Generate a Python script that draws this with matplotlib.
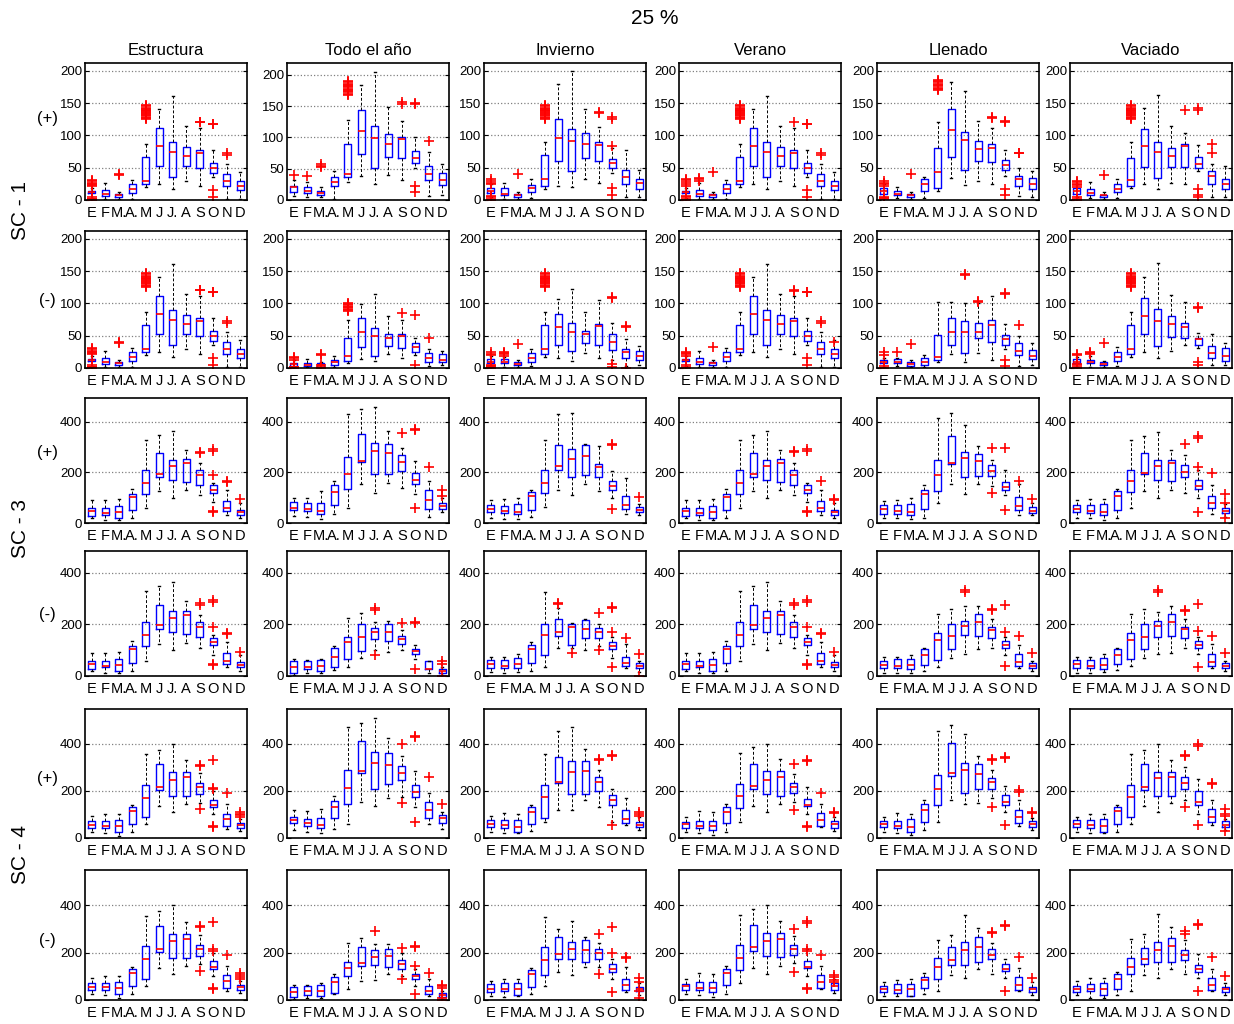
import matplotlib
matplotlib.use('Agg')
import matplotlib.pyplot as plt

plt.rcParams['font.family'] = ['Liberation Sans', 'DejaVu Sans']

meses = ['E', 'F', 'M.', 'A.', 'M', 'J', 'J.', 'A', 'S', 'O', 'N', 'D']
columnas = ['Estructura', 'Todo el año', 'Invierno', 'Verano', 'Llenado', 'Vaciado']
signos = ['(+)', '(-)', '(+)', '(-)', '(+)', '(-)']
escenarios = ['SC - 1', 'SC - 3', 'SC - 4']

# valores atipicos de mayo en SC-1 (nube de cruces)
mayo_sc1 = [125, 127, 129, 131, 132, 134, 135, 137, 138, 140, 141, 143, 145, 147]
mayo_sc1_todo = [168, 170, 172, 174, 176, 178, 180, 182, 184, 186, 188, 191]
mayo_sc1_lle = [170, 172, 174, 176, 178, 180, 182, 184, 186]
mayo_sc1n_todo = [88, 90, 92, 94, 95, 97, 99, 101]

# cada caja: (bigote inf, q1, mediana, q3, bigote sup)
# ---------------- SC-1 (+) ----------------
sc1p_est = [(3, 11, 12, 14, 18), (2, 6, 10, 15, 27), (2, 5, 7, 9, 13), (2, 11, 17, 24, 31),
            (20, 24, 29, 67, 87), (25, 52, 83, 111, 141), (17, 35, 75, 89, 161), (29, 52, 68, 82, 114),
            (21, 50, 73, 78, 112), (36, 42, 49, 57, 77), (2, 22, 29, 40, 56), (2, 15, 22, 29, 43)]
sc1p_est_out = [[0, 1, 2, 4, 21, 23, 25, 27, 29, 31], [], [39, 40], [], mayo_sc1, [], [], [],
                [120, 121], [117, 118, 15, 5], [70, 72], []]

sc1p_todo = [(6, 13.5, 20, 22.6, 32), (4, 10.8, 15, 20.5, 29), (4, 8, 11, 14.5, 20), (1, 22, 29, 37, 47),
             (28, 36.6, 42, 89.5, 128), (38, 73, 110, 144, 184), (26, 51, 99, 117.5, 205), (40, 69, 89, 105.6, 148),
             (32, 67, 97, 100, 126), (51, 59, 67, 78, 101), (6, 32, 42, 55, 77), (8, 24, 32, 43, 57)]
sc1p_todo_out = [[40], [38], [53, 55, 57], [], mayo_sc1_todo, [], [], [],
                 [154, 156], [153, 155, 22, 12], [95], []]

sc1p_inv = [(5, 11, 14, 18, 24), (2, 7, 9, 18, 26), (2, 5, 8, 10, 12), (3, 12, 19, 23, 33),
            (17, 22, 32, 69, 90), (21, 61, 96, 125, 180), (20, 45, 92, 110, 200), (33, 65, 86, 103, 141),
            (27, 60, 85, 89, 113), (42, 49, 58, 63, 80), (4, 24, 36, 47, 78), (4, 17, 27, 33, 47)]
sc1p_inv_out = [[0, 2, 4, 6, 25, 27, 29, 32], [], [41], [], mayo_sc1, [], [], [],
                [134, 136], [126, 128, 84, 19, 8], [], []]

sc1p_ver_out = [[0, 2, 4, 6, 22, 25, 28, 31, 33], [30, 32, 34], [44], [], mayo_sc1, [], [], [],
                [120], [117, 118, 15, 5], [70, 72], []]

sc1p_lle = [(4, 10, 14, 18, 25), (3, 7, 10, 14.5, 20), (2, 4, 7, 9, 12), (3, 14.5, 24, 32, 36),
            (14, 19, 43, 81, 120), (34, 66, 108, 141, 182), (23, 46, 93, 105, 168), (29, 60, 79, 92, 123),
            (25, 59, 80, 86, 112), (37, 46, 54, 62, 77), (6, 22, 33, 37, 50), (4, 17, 25, 34, 45)]
sc1p_lle_out = [[1, 3, 5, 22, 25, 27, 30], [], [40], [], mayo_sc1_lle, [], [], [],
                [127, 128], [120, 122, 17, 7], [72, 73], []]

sc1p_vac = [(4, 10, 14, 18, 25), (3, 7, 11, 17, 28), (2, 5, 7, 8, 12), (3, 12, 17, 25, 33),
            (18, 22, 31, 65, 90), (24, 51, 83, 110, 143), (17, 34, 75, 90, 162), (26, 51, 68, 81, 114),
            (25, 51, 83, 87, 104), (45, 49, 55, 67, 85), (4, 24, 37, 45, 56), (4, 17, 24, 33, 52)]
sc1p_vac_out = [[0, 2, 4, 20, 23, 25, 28, 30], [], [39], [], mayo_sc1, [], [], [],
                [139], [140, 142, 17, 8, 4], [86, 72], []]

# ---------------- SC-1 (-) ----------------
sc1n_todo = [(0, 3, 6, 8, 12), (1, 3, 5, 8, 14), (0, 2, 4, 7, 10), (2, 4, 9, 12, 18),
             (7, 11, 18, 46, 75), (14, 33, 55, 77, 99), (11, 18, 50, 62, 115), (22, 34, 47, 53, 81),
             (15, 31, 50, 52, 75), (20, 24, 32, 38, 46), (3, 10, 15, 23, 29), (4, 9, 13, 21, 26)]
sc1n_todo_out = [[0, 1, 2, 13, 15, 17], [], [0, 2, 4, 20, 22], [], mayo_sc1n_todo, [], [], [],
                 [85], [82, 5], [47], []]

sc1n_inv = [(2, 7, 10, 14, 18), (2, 7, 9, 14, 17), (2, 4, 6, 9, 12), (3, 10, 16, 23, 30),
            (17, 22, 29, 66, 86), (16, 36, 63, 83, 107), (11, 26, 56, 69, 123), (23, 39, 52, 58, 86),
            (15, 35, 65, 68, 106), (12, 28, 41, 52, 70), (3, 15, 25, 30, 45), (5, 12, 18, 27, 34)]
sc1n_inv_out = [[0, 1, 3, 5, 20, 22, 24], [19, 21, 23, 25], [37], [], mayo_sc1, [], [], [],
                [], [108, 110, 2, 6], [63, 65, 0], []]

sc1n_ver_out = [[0, 2, 5, 19, 21, 23, 25], [], [33], [], mayo_sc1, [], [], [],
                [119, 121], [117, 118, 15, 5], [70, 72], [41]]

sc1n_lle = [(2, 7, 10, 13, 16), (3, 7, 10, 14.5, 16), (1, 3, 6, 9, 13), (2, 5, 10, 15, 20),
            (9, 13, 17, 51, 102), (21, 36, 56, 78, 102), (10, 23, 56, 72, 101), (23, 47, 56, 70, 100),
            (12, 40, 66, 74, 112), (30, 35, 45, 51, 68), (3, 20, 27, 38, 50), (4, 14, 19, 28, 38)]
sc1n_lle_out = [[0, 3, 20, 24], [24], [37], [], [], [], [144, 146], [102, 104], [],
                [114, 116, 13, 3], [67], []]

sc1n_vac = [(2, 8, 10, 14, 17), (2, 7, 10, 13, 18), (2, 4, 6, 9, 11), (3, 11, 17, 25, 33),
            (17, 22, 29, 66, 87), (24, 52, 81, 109, 141), (16, 34, 73, 91, 162), (26, 48, 68, 80, 113),
            (35, 46, 64, 69, 102), (31, 35, 45, 47, 54), (4, 15, 23, 34, 52), (4, 11, 19, 31, 38)]
sc1n_vac_out = [[0, 2, 4, 6, 20, 22], [21, 23, 25], [38], [], mayo_sc1, [], [], [],
                [], [93, 95, 10, 4], [], []]

# ---------------- SC-3 (+) ----------------
sc3p_est = [(18, 29, 48, 60, 90), (10, 33, 40, 60, 90), (10, 20, 43, 67, 95), (19, 51, 104, 116, 135),
            (59, 116, 160, 211, 330), (125, 184, 196, 277, 350), (100, 169, 226, 251, 365),
            (129, 164, 238, 252, 290), (109, 151, 191, 211, 238), (83, 120, 131, 149, 160),
            (33, 47, 60, 89, 130), (18, 33, 44, 53, 80)]
sc3p_est_out = [[], [], [], [], [], [], [], [], [276, 282], [287, 293, 191, 42, 47], [162, 167], [95]]

sc3p_todo = [(27, 50, 60, 82, 100), (25, 46, 55, 80, 100), (16, 34, 48, 80, 125), (35, 72, 122, 150, 165),
             (61, 135, 196, 263, 430), (155, 243, 247, 353, 450), (120, 193, 287, 318, 460),
             (160, 196, 276, 314, 364), (138, 206, 240, 268, 298), (115, 154, 170, 197, 245),
             (22, 56, 93, 131, 165), (43, 54, 67, 80, 100)]
sc3p_todo_out = [[], [], [], [], [], [], [], [], [355], [367, 372, 60], [220], [130, 105]]

sc3p_inv = [(20, 43, 55, 72, 92), (15, 39, 46, 69, 97), (15, 35, 43, 76, 100), (22, 52, 108, 122, 130),
            (62, 119, 159, 210, 328), (130, 209, 225, 307, 430), (110, 184, 255, 295, 435),
            (155, 190, 265, 307, 312), (125, 184, 220, 235, 305), (100, 131, 145, 167, 205),
            (35, 55, 70, 108, 180), (30, 43, 50, 63, 75)]
sc3p_inv_out = [[], [], [], [], [], [], [], [], [], [307, 313, 55], [], [103]]

sc3p_ver_out = [[], [], [], [], [], [], [], [], [280, 284], [287, 293, 42, 47], [165], [92, 95]]

sc3p_lle = [(18, 37, 55, 72, 88), (18, 37, 46, 72, 92), (15, 30, 43, 76, 100), (20, 56, 113, 132, 150),
            (80, 125, 190, 248, 415), (155, 233, 238, 346, 435), (115, 184, 256, 281, 390),
            (155, 187, 245, 274, 305), (145, 187, 205, 231, 250), (110, 132, 142, 163, 210),
            (33, 52, 68, 102, 155), (30, 39, 48, 63, 80)]
sc3p_lle_out = [[], [], [], [], [], [], [], [], [298, 118], [298, 50], [165], [97]]

sc3p_vac = [(20, 43, 55, 72, 90), (20, 39, 48, 72, 95), (10, 30, 43, 76, 97), (20, 52, 108, 127, 135),
            (60, 121, 165, 210, 330), (125, 194, 197, 276, 345), (100, 169, 226, 251, 360),
            (130, 165, 236, 251, 290), (120, 184, 200, 231, 268), (100, 135, 145, 170, 210),
            (35, 59, 80, 108, 150), (25, 39, 48, 58, 75)]
sc3p_vac_out = [[], [], [], [], [], [], [], [], [312], [337, 343, 220, 45], [198], [115, 80, 20]]

# ---------------- SC-3 (-) ----------------
sc3n_todo = [(3, 13, 35, 58, 65), (12, 26, 33, 58, 62), (10, 19, 38, 64, 65), (25, 36, 75, 110, 118),
             (35, 65, 130, 151, 225), (70, 97, 150, 203, 245), (100, 144, 170, 187, 210),
             (95, 134, 170, 200, 215), (100, 125, 142, 155, 180), (65, 86, 98, 106, 120),
             (12, 26, 28, 58, 60), (5, 13, 18, 28, 35)]
sc3n_todo_out = [[], [], [], [], [], [], [258, 262, 80], [], [205], [206, 210, 28], [], [60, 45, 0]]

sc3n_inv = [(15, 30, 45, 62, 72), (10, 32, 40, 64, 72), (15, 30, 45, 71, 85), (20, 52, 105, 122, 130),
            (35, 80, 160, 203, 325), (110, 155, 170, 220, 265), (110, 120, 190, 200, 205),
            (100, 148, 182, 216, 220), (115, 148, 170, 187, 200), (70, 103, 116, 131, 150),
            (30, 39, 50, 73, 125), (15, 30, 40, 52, 60)]
sc3n_inv_out = [[], [], [], [], [], [278, 282], [90], [], [245, 100], [263, 267, 170, 35], [148], [85, 0]]

sc3n_lle = [(12, 30, 43, 58, 72), (12, 32, 40, 67, 75), (12, 28, 43, 67, 80), (20, 41, 83, 103, 110),
            (35, 64, 140, 166, 240), (70, 103, 155, 203, 260), (85, 159, 195, 213, 270),
            (105, 155, 210, 239, 270), (110, 148, 180, 190, 220), (80, 110, 122, 135, 150),
            (30, 39, 55, 86, 120), (20, 32, 40, 52, 60)]
sc3n_lle_out = [[], [], [], [], [], [], [327, 333], [], [256, 260], [275, 172, 40], [155], [90]]

sc3n_vac = [(10, 30, 45, 62, 72), (12, 30, 38, 64, 75), (15, 28, 43, 71, 85), (25, 45, 83, 106, 110),
            (40, 67, 140, 167, 240), (70, 103, 153, 203, 260), (85, 150, 195, 215, 250),
            (90, 155, 210, 239, 270), (110, 148, 182, 190, 220), (85, 110, 122, 135, 150),
            (30, 39, 55, 86, 125), (20, 32, 40, 52, 60)]
sc3n_vac_out = [[], [], [], [], [], [], [327, 333], [], [253, 257], [280, 175, 35], [155], [90]]

# ---------------- SC-4 (+) ----------------
sc4p_est = [(25, 44, 57, 72, 92), (20, 41, 53, 72, 100), (10, 27, 50, 75, 100), (25, 58, 113, 130, 140),
            (60, 90, 172, 227, 355), (135, 203, 215, 313, 375), (110, 179, 248, 280, 400),
            (145, 179, 258, 280, 330), (150, 187, 215, 232, 275), (100, 131, 141, 163, 200),
            (40, 52, 80, 104, 145), (30, 41, 55, 62, 80)]
sc4p_est_out = [[], [], [], [], [], [], [], [], [307, 312, 122], [330, 209, 214, 46, 52], [190],
                [112, 104, 96, 88]]

sc4p_todo = [(35, 62, 75, 90, 120), (25, 52, 65, 79, 115), (20, 44, 55, 83, 125), (40, 83, 132, 156, 180),
             (60, 145, 213, 290, 470), (155, 276, 283, 414, 490), (135, 210, 318, 365, 510),
             (170, 230, 308, 359, 425), (175, 246, 277, 304, 350), (130, 175, 195, 224, 285),
             (60, 87, 118, 151, 190), (40, 62, 83, 97, 110)]
sc4p_todo_out = [[], [], [], [], [], [], [], [], [400, 150], [427, 432, 70], [260], [145]]

sc4p_inv = [(25, 46, 58, 75, 95), (20, 41, 55, 75, 105), (20, 27, 48, 76, 100), (30, 59, 112, 131, 140),
            (70, 86, 175, 227, 355), (120, 232, 240, 345, 455), (120, 187, 280, 328, 470),
            (160, 187, 283, 328, 380), (130, 199, 240, 258, 290), (70, 139, 160, 184, 210),
            (55, 62, 80, 118, 170), (35, 48, 57, 66, 90)]
sc4p_inv_out = [[], [], [], [], [], [], [], [], [333, 337], [347, 352, 55], [], [112, 104, 95]]

sc4p_ver = [(25, 44, 58, 69, 90), (20, 41, 50, 74, 115), (12, 33, 50, 74, 110), (25, 62, 112, 130, 145),
            (70, 126, 177, 231, 360), (135, 207, 222, 315, 385), (110, 187, 248, 285, 400),
            (145, 180, 258, 285, 335), (155, 190, 215, 233, 270), (100, 136, 140, 166, 215),
            (45, 52, 77, 105, 145), (28, 44, 58, 72, 90)]
sc4p_ver_out = [[], [], [], [], [], [], [], [], [315, 120], [327, 333, 46, 52], [190], [108, 112]]

sc4p_lle = [(25, 46, 58, 72, 90), (20, 41, 53, 72, 105), (12, 27, 48, 80, 100), (35, 69, 120, 143, 160),
            (70, 139, 207, 269, 455), (160, 263, 275, 405, 478), (145, 193, 288, 320, 440),
            (150, 210, 272, 315, 350), (170, 210, 240, 256, 290), (110, 142, 155, 184, 220),
            (50, 62, 90, 118, 160), (35, 48, 58, 72, 85)]
sc4p_lle_out = [[], [], [], [], [], [], [], [], [333, 337, 130], [338, 342, 55], [197, 203], [107, 112]]

sc4p_vac = [(25, 46, 58, 75, 90), (20, 41, 55, 75, 100), (20, 27, 50, 80, 100), (25, 58, 113, 130, 140),
            (60, 90, 175, 227, 355), (135, 204, 215, 314, 375), (110, 180, 255, 280, 400),
            (150, 179, 258, 280, 330), (160, 207, 235, 258, 300), (100, 139, 155, 198, 250),
            (55, 69, 88, 122, 160), (35, 48, 55, 72, 80)]
sc4p_vac_out = [[], [], [], [], [], [], [], [], [348, 352, 130], [392, 398, 55], [228, 232],
                [125, 100, 95, 30]]

# ---------------- SC-4 (-) ----------------
sc4n_todo = [(5, 11, 35, 54, 62), (10, 23, 38, 61, 65), (8, 16, 38, 64, 70), (25, 30, 75, 96, 110),
             (45, 100, 135, 160, 240), (80, 144, 155, 225, 262), (85, 147, 180, 211, 235),
             (110, 140, 187, 214, 235), (100, 133, 150, 168, 200), (60, 90, 100, 111, 130),
             (18, 26, 38, 61, 90), (3, 11, 20, 30, 40)]
sc4n_todo_out = [[], [], [], [], [], [], [290], [], [220, 90], [222, 228, 145, 25], [115],
                 [65, 58, 52, 10, 0]]

sc4n_inv = [(15, 33, 48, 68, 80), (12, 36, 45, 71, 88), (15, 21, 48, 73, 88), (25, 54, 110, 125, 135),
            (60, 104, 170, 225, 350), (120, 175, 195, 264, 300), (105, 173, 215, 244, 335),
            (140, 161, 210, 254, 265), (140, 175, 200, 215, 240), (90, 118, 130, 154, 175),
            (35, 43, 65, 90, 140), (20, 36, 48, 57, 70)]
sc4n_inv_out = [[], [], [], [], [], [], [], [], [280, 110], [310, 200, 35], [177, 182], [95, 75, 40, 10]]

sc4n_ver_out = [[], [], [], [], [], [], [], [], [300, 120], [327, 333, 209, 214, 46, 52], [190],
                [104, 98, 84, 78]]

sc4n_lle = [(15, 33, 45, 61, 75), (15, 30, 43, 68, 85), (15, 19, 45, 68, 88), (25, 50, 85, 97, 115),
            (40, 90, 140, 178, 255), (105, 147, 170, 225, 275), (95, 147, 210, 244, 360),
            (130, 161, 225, 265, 305), (110, 175, 190, 215, 240), (95, 124, 130, 151, 175),
            (40, 43, 65, 97, 135), (20, 33, 45, 57, 75)]
sc4n_lle_out = [[], [], [], [], [], [], [], [], [282, 288], [313, 317, 40], [180], [95]]

sc4n_vac = [(20, 33, 48, 61, 80), (10, 37, 45, 68, 95), (10, 23, 48, 71, 95), (20, 47, 90, 110, 120),
            (40, 110, 140, 177, 258), (105, 150, 172, 221, 280), (95, 160, 212, 243, 365),
            (130, 160, 228, 263, 310), (110, 170, 192, 212, 255), (95, 117, 130, 148, 195),
            (40, 42, 65, 93, 130), (20, 35, 45, 54, 70)]
sc4n_vac_out = [[], [], [], [], [], [], [], [], [290, 280], [317, 323, 40], [180], [100]]

paneles = [
    [(sc1p_est, sc1p_est_out), (sc1p_todo, sc1p_todo_out), (sc1p_inv, sc1p_inv_out),
     (sc1p_est, sc1p_ver_out), (sc1p_lle, sc1p_lle_out), (sc1p_vac, sc1p_vac_out)],
    [(sc1p_est, sc1p_est_out), (sc1n_todo, sc1n_todo_out), (sc1n_inv, sc1n_inv_out),
     (sc1p_est, sc1n_ver_out), (sc1n_lle, sc1n_lle_out), (sc1n_vac, sc1n_vac_out)],
    [(sc3p_est, sc3p_est_out), (sc3p_todo, sc3p_todo_out), (sc3p_inv, sc3p_inv_out),
     (sc3p_est, sc3p_ver_out), (sc3p_lle, sc3p_lle_out), (sc3p_vac, sc3p_vac_out)],
    [(sc3p_est, sc3p_est_out), (sc3n_todo, sc3n_todo_out), (sc3n_inv, sc3n_inv_out),
     (sc3p_est, sc3p_est_out), (sc3n_lle, sc3n_lle_out), (sc3n_vac, sc3n_vac_out)],
    [(sc4p_est, sc4p_est_out), (sc4p_todo, sc4p_todo_out), (sc4p_inv, sc4p_inv_out),
     (sc4p_ver, sc4p_ver_out), (sc4p_lle, sc4p_lle_out), (sc4p_vac, sc4p_vac_out)],
    [(sc4p_est, sc4p_est_out), (sc4n_todo, sc4n_todo_out), (sc4n_inv, sc4n_inv_out),
     (sc4p_ver, sc4n_ver_out), (sc4n_lle, sc4n_lle_out), (sc4n_vac, sc4n_vac_out)],
]

# limites y marcas del eje y por fila
ytop = [212, 212, 495, 485, 548, 549]
yticks_fila = [[0, 50, 100, 150, 200]] * 2 + [[0, 200, 400]] * 4

W, H = 1234, 1024
fig = plt.figure(figsize=(W / 100, H / 100), dpi=100)

col_x = [85, 287, 484, 679, 877, 1070]
ancho = 162
filas_y = [(63, 200), (231, 368), (398, 523), (551, 676), (709, 838), (870, 1000)]

for i, fila in enumerate(paneles):
    top, bot = filas_y[i]
    for j, (cajas, atipicos) in enumerate(fila):
        ax = fig.add_axes([col_x[j] / W, 1 - bot / H, ancho / W, (bot - top) / H])
        stats = [dict(whislo=c[0], q1=c[1], med=c[2], q3=c[3], whishi=c[4], fliers=o)
                 for c, o in zip(cajas, atipicos)]
        ax.bxp(stats, positions=range(1, 13), widths=0.5, capwidths=0.12,
               boxprops=dict(color='#0000ff', linewidth=1.0),
               medianprops=dict(color='#ff0000', linewidth=1.2),
               whiskerprops=dict(color='black', linewidth=0.7, linestyle=(0, (3, 2))),
               capprops=dict(color='black', linewidth=1.0),
               flierprops=dict(marker='+', markeredgecolor='#ff0000', markersize=7,
                               markeredgewidth=1.2, linestyle='none'))
        ax.set_xlim(0.5, 12.5)
        top_y = 219 if (i == 0 and j == 1) else ytop[i]
        ax.set_ylim(0, top_y)
        ax.set_xticks(range(1, 13))
        ax.set_xticklabels(meses, fontsize=10.5)
        ax.set_yticks(yticks_fila[i])
        ax.tick_params(axis='y', direction='in', length=3, right=True, labelsize=9.5, pad=2)
        ax.tick_params(axis='x', length=0, pad=4)
        ax.yaxis.grid(True, color='0.5', linestyle=':', linewidth=0.9)
        ax.set_axisbelow(True)
        for s in ax.spines.values():
            s.set_linewidth(1.2)
        if i == 0:
            ax.set_title(columnas[j], fontsize=12, pad=6)

# signos y escenarios
signo_y = [118, 300, 452, 615, 779, 940]
for k, s in enumerate(signos):
    fig.text(47 / W, 1 - signo_y[k] / H, s, fontsize=12, ha='center', va='center')

esc_y = [210, 528, 855]
for k, s in enumerate(escenarios):
    fig.text(20 / W, 1 - esc_y[k] / H, s, fontsize=15, rotation=90, ha='center', va='center')

fig.text(655 / W, 1 - 18 / H, '25 %', fontsize=15, ha='center', va='center')

fig.savefig('out.png', dpi=100)
